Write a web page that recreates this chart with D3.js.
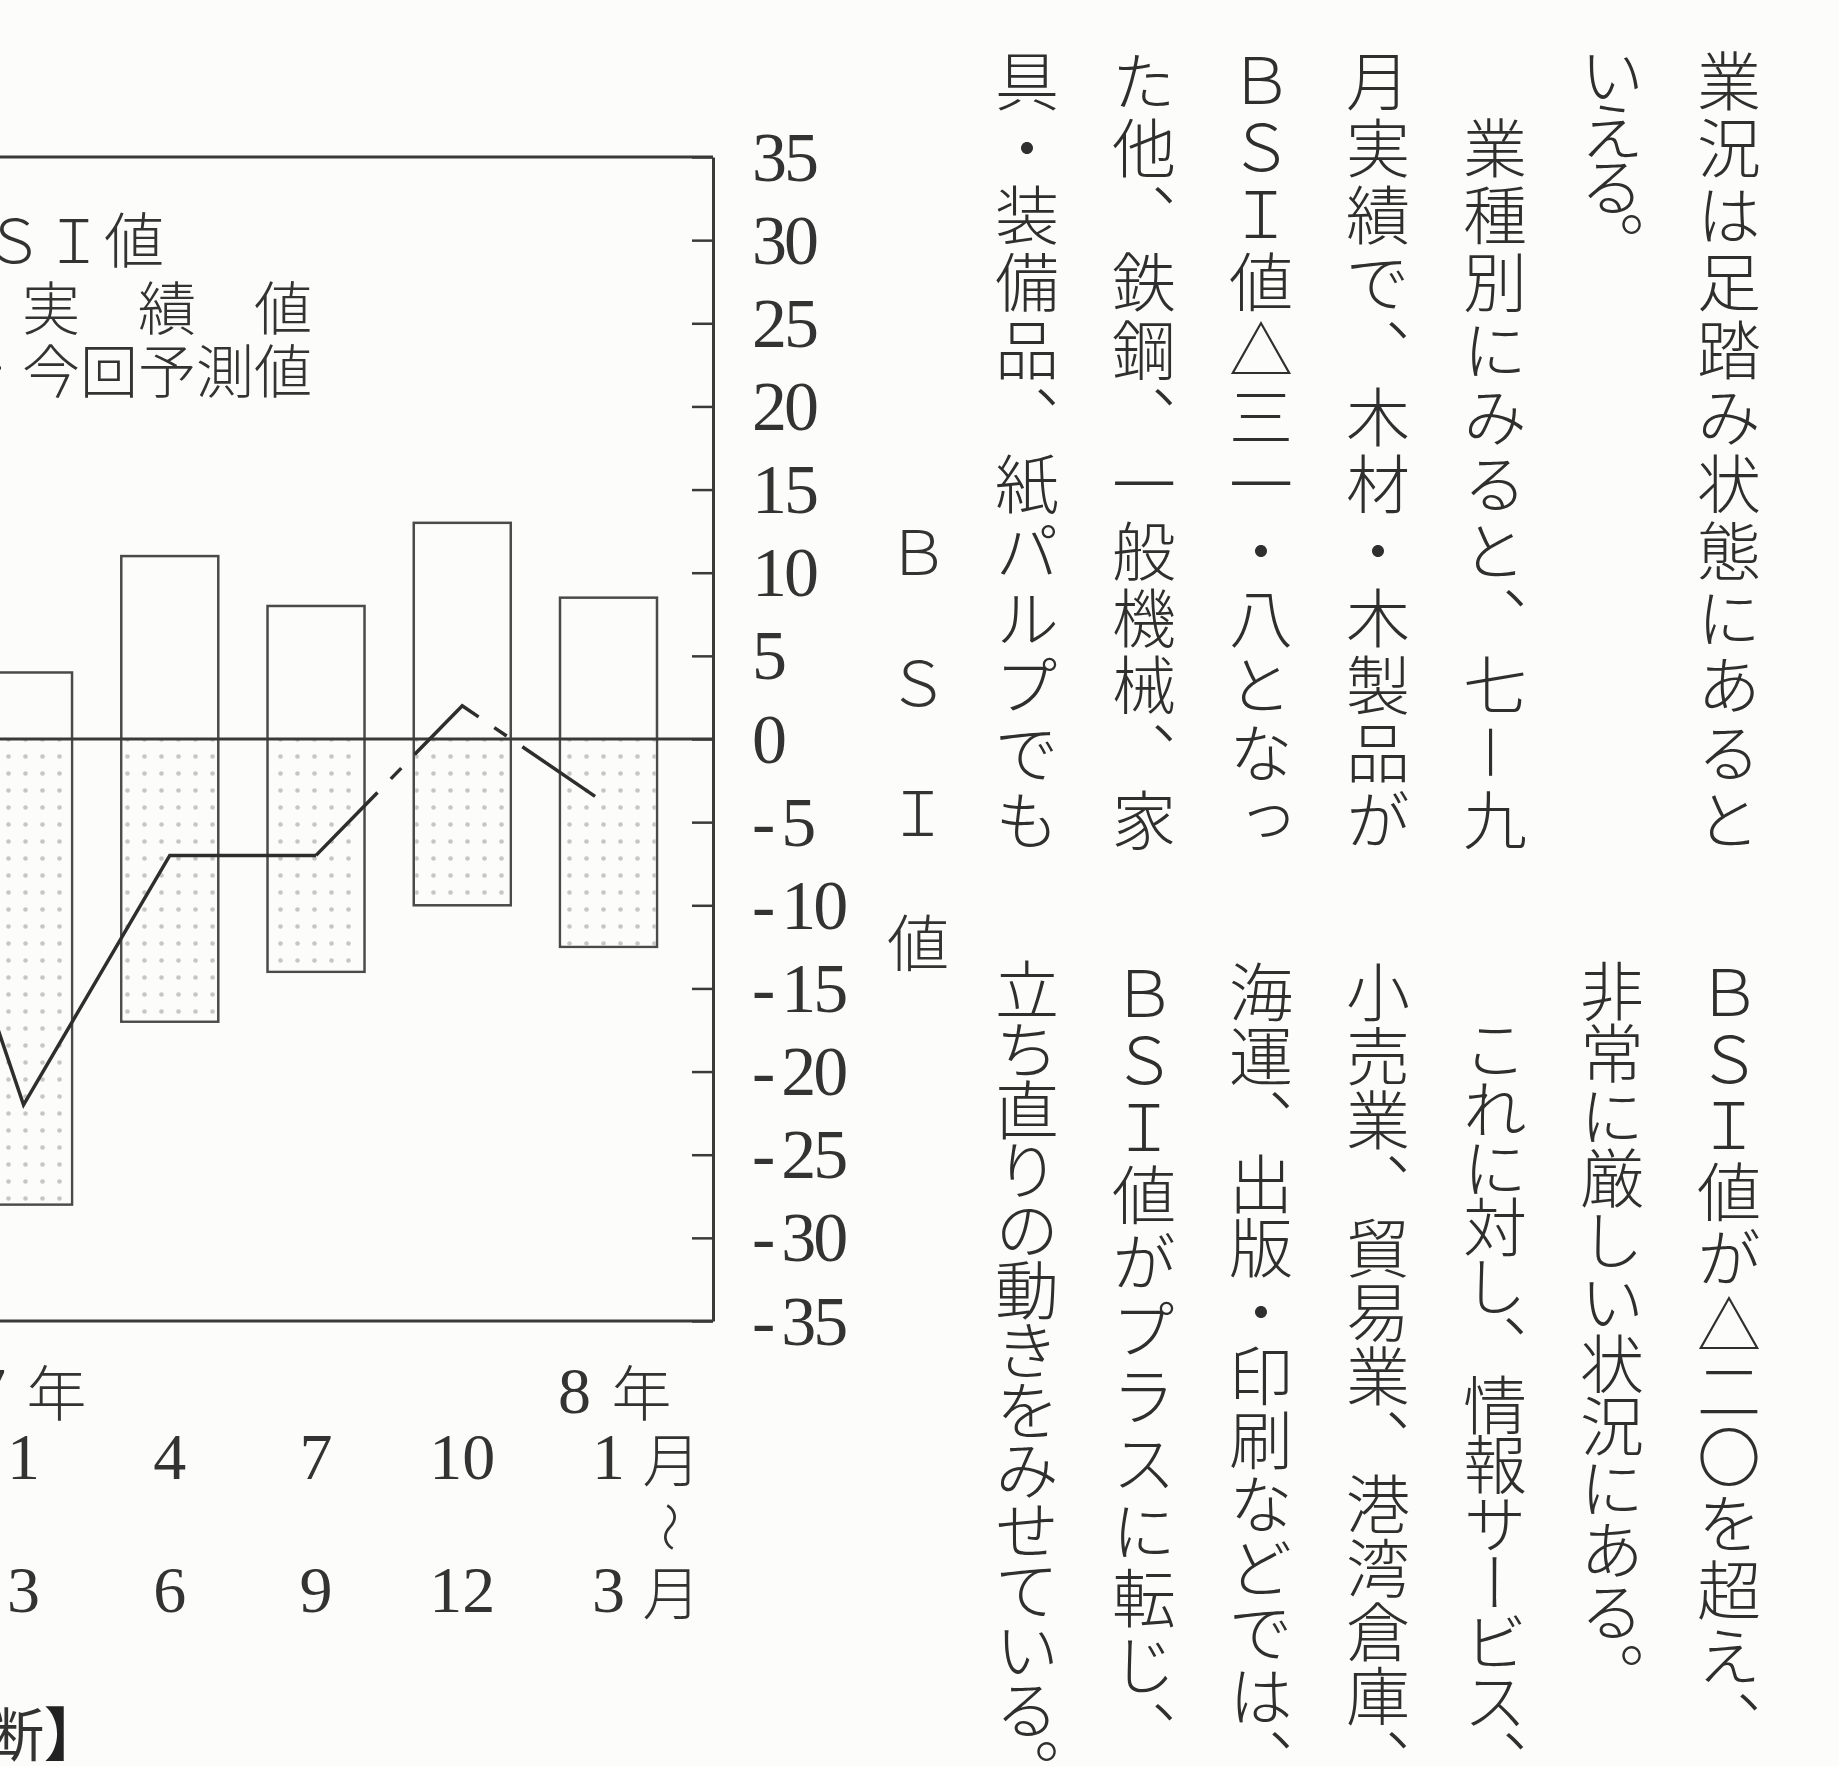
<!DOCTYPE html>
<html>
<head>
<meta charset="utf-8">
<script src="https://cdn.jsdelivr.net/npm/d3@7"></script>
<style>
  body { margin: 0; background: #fcfcfa; }
  svg { display: block; }
</style>
</head>
<body>
<svg id="vis_canvas" width="1839" height="1766"></svg>
<script>
// quarters (first one is only reached by the line, off to the left)
var quarters = ["6年10-12月", "7年1-3月", "4-6月", "7-9月", "10-12月", "8年1-3月"];
var bar_quarters = ["7年1-3月", "4-6月", "7-9月", "10-12月", "8年1-3月"];
var bar_up = [4, 11, 8, 13, 8.5];
var bar_down = [-28, -17, -14, -10, -12.5];

var actual_quarters = ["6年10-12月", "7年1-3月", "4-6月", "7-9月"];
var actual_bsi = [4, -22, -7, -7];
var forecast_quarters = ["7-9月", "10-12月", "8年1-3月"];
var forecast_bsi = [-7, 2, -4];

var month_from = ["1", "4", "7", "10", "1"];
var month_to = ["3", "6", "9", "12", "3"];
var year_marks = [{q: "7年1-3月", year: "7"}, {q: "8年1-3月", year: "8"}];

var y_ticks = [35, 30, 25, 20, 15, 10, 5, 0, -5, -10, -15, -20, -25, -30, -35];
var y_title = ["Ｂ", "Ｓ", "Ｉ", "値"];

var upper_cols = ["業況は足踏み状態にあると", "いえる。", "　業種別にみると、七－九", "月実績で、木材・木製品が",
                  "ＢＳＩ値△三一・八となっ", "た他、鉄鋼、一般機械、家", "具・装備品、紙パルプでも"];
var lower_cols = ["ＢＳＩ値が△二〇を超え、", "非常に厳しい状況にある。", "　これに対し、情報サービス、",
                  "小売業、貿易業、港湾倉庫、", "海運、出版・印刷などでは、", "ＢＳＩ値がプラスに転じ、",
                  "立ち直りの動きをみせている。"];

var ink = "#333";
var jp = "'Noto Sans CJK JP', 'Noto Sans', sans-serif";
var num = "'Liberation Serif', 'DejaVu Serif', serif";

var svg = d3.select("#vis_canvas");
svg.append("rect").attr("width", 1839).attr("height", 1766).attr("fill", "#fcfcfa");

var pat = svg.append("defs").append("pattern")
    .attr("id", "dots").attr("patternUnits", "userSpaceOnUse")
    .attr("width", 17).attr("height", 17);
pat.append("rect").attr("width", 17).attr("height", 17).attr("fill", "#fcfcfa");
pat.append("circle").attr("cx", 8.5).attr("cy", 8.5).attr("r", 2.3).attr("fill", "#c6c6c6");

var x = d3.scalePoint().domain(quarters).range([23.5 - 146.2, 608.5]);
var y = d3.scaleLinear().domain([-35, 35]).range([1321, 157]);
var bw = 97;
var right = 713;

var chart = svg.append("g");

// bars
bar_quarters.forEach(function(q, i) {
    chart.append("rect")
        .attr("x", x(q) - bw / 2).attr("y", y(bar_up[i]))
        .attr("width", bw).attr("height", y(bar_down[i]) - y(bar_up[i]))
        .attr("fill", "#fcfcfa").attr("stroke", "#4a4a4a").attr("stroke-width", 2.5);
    chart.append("rect")
        .attr("x", x(q) - bw / 2 + 1.5).attr("y", y(0))
        .attr("width", bw - 3).attr("height", y(bar_down[i]) - y(0) - 1.5)
        .attr("fill", "url(#dots)");
});

// frame
chart.append("line").attr("x1", -50).attr("x2", right).attr("y1", y(35)).attr("y2", y(35))
    .attr("stroke", "#3a3a3a").attr("stroke-width", 3);
chart.append("line").attr("x1", -50).attr("x2", right).attr("y1", y(-35)).attr("y2", y(-35))
    .attr("stroke", "#3a3a3a").attr("stroke-width", 3);
chart.append("line").attr("x1", -50).attr("x2", right).attr("y1", y(0)).attr("y2", y(0))
    .attr("stroke", "#3a3a3a").attr("stroke-width", 3);

var yAxis = d3.axisRight(y).tickValues(y_ticks).tickSizeInner(-21).tickSizeOuter(0).tickPadding(39)
    .tickFormat(function(d) { return String(Math.abs(d)); });
var ya = chart.append("g").attr("transform", "translate(" + right + ",0)").call(yAxis);
ya.select(".domain").attr("stroke", "#3a3a3a").attr("stroke-width", 3);
ya.selectAll(".tick line").attr("stroke", "#3a3a3a").attr("stroke-width", 2.5);
ya.selectAll(".tick text")
    .attr("font-family", num).attr("font-size", 70).attr("letter-spacing", -3)
    .attr("fill", ink).attr("text-anchor", "start").attr("dy", "0.33em")
    .each(function(d) {
        if (d >= 0) return;
        var t = d3.select(this), v = t.text();
        t.text("");
        t.append("tspan").text("-");
        t.append("tspan").attr("dx", 9).text(v);
    });

// lines
var line = d3.line().x(function(d) { return x(d[0]); }).y(function(d) { return y(d[1]); });
chart.append("path")
    .attr("d", line(d3.zip(actual_quarters, actual_bsi)))
    .attr("fill", "none").attr("stroke", "#2e2e2e").attr("stroke-width", 3.5);
chart.append("path")
    .attr("d", line(d3.zip(forecast_quarters, forecast_bsi)))
    .attr("fill", "none").attr("stroke", "#2e2e2e").attr("stroke-width", 3.5)
    .attr("stroke-dasharray", "88 19 15 19");

// legend
var lg = chart.append("g").attr("font-family", jp).attr("font-weight", 300)
    .attr("fill", ink).attr("dominant-baseline", "central");
lg.append("text").attr("x", -76).attr("y", 236).attr("font-size", 60).text("ＢＳＩ値");
lg.append("text").attr("x", 22).attr("y", 305).attr("font-size", 58).text("実　績　値");
lg.append("text").attr("x", 22).attr("y", 368).attr("font-size", 58).text("今回予測値");
chart.append("line").attr("x1", -130).attr("x2", -12).attr("y1", 305).attr("y2", 305)
    .attr("stroke", "#2e2e2e").attr("stroke-width", 3.5);
chart.append("line").attr("x1", -130).attr("x2", 1).attr("y1", 368).attr("y2", 368)
    .attr("stroke", "#2e2e2e").attr("stroke-width", 3).attr("stroke-dasharray", "40 12 10 12");

// y title
y_title.forEach(function(c, i) {
    svg.append("text").attr("x", 918).attr("y", 548 + i * 130.6)
        .attr("font-family", jp).attr("font-weight", 300).attr("font-size", 62).attr("fill", ink)
        .attr("text-anchor", "middle").attr("dominant-baseline", "central").text(c);
});

// x labels
var xl = svg.append("g").attr("fill", ink);
bar_quarters.forEach(function(q, i) {
    xl.append("text").attr("x", x(q)).attr("y", 1479).attr("font-family", num).attr("font-size", 66)
        .attr("text-anchor", "middle").text(month_from[i]);
    xl.append("text").attr("x", x(q)).attr("y", 1612).attr("font-family", num).attr("font-size", 66)
        .attr("text-anchor", "middle").text(month_to[i]);
});
var last = x(bar_quarters[bar_quarters.length - 1]);
var jpl = xl.append("g").attr("font-family", jp).attr("font-weight", 300)
    .attr("text-anchor", "middle").attr("dominant-baseline", "central");
jpl.append("text").attr("x", last + 63).attr("y", 1457).attr("font-size", 58).text("月");
jpl.append("text").attr("x", last + 63).attr("y", 1590).attr("font-size", 58).text("月");
jpl.append("text").attr("font-size", 50)
    .attr("transform", "translate(" + (last + 64) + ",1527) rotate(90)").text("〜");
year_marks.forEach(function(d) {
    xl.append("text").attr("x", x(d.q) - 34).attr("y", 1413).attr("font-family", num).attr("font-size", 66)
        .attr("text-anchor", "middle").text(d.year);
    jpl.append("text").attr("x", x(d.q) + 33).attr("y", 1389).attr("font-size", 60).text("年");
});

// source caption, cut at the left
var cap = svg.append("text").attr("x", -14).attr("y", 1756).attr("font-family", jp)
    .attr("font-size", 58).attr("fill", ink);
cap.append("tspan").text("断");
cap.append("tspan").attr("font-weight", 700).attr("fill", "#222").text("】");

// article columns, vertical
var upper_top = 47, lower_top = 960;
var upper_end = [853, 271, 853, 853, 853, 853, 853];
var lower_end = [1755, 1705, 1790, 1792, 1792, 1765, 1800];
var body = svg.append("g").attr("font-family", jp).attr("font-weight", 300)
    .attr("font-size", 64).attr("fill", "#2f2f2f");

function column(str, cx, top, end) {
    var chars = Array.from(str);
    var pitch = (end - top) / chars.length;
    chars.forEach(function(c, k) {
        if (c === "　") return;
        body.append("text")
            .attr("x", cx).attr("y", top + pitch * (k + 0.5))
            .attr("text-anchor", "middle")
            .style("writing-mode", "vertical-rl")
            .text(c);
    });
}
upper_cols.forEach(function(s, i) { column(s, 1729 - 117 * i, upper_top, upper_end[i]); });
lower_cols.forEach(function(s, i) { column(s, 1729 - 117 * i, lower_top, lower_end[i]); });
</script>
</body>
</html>
